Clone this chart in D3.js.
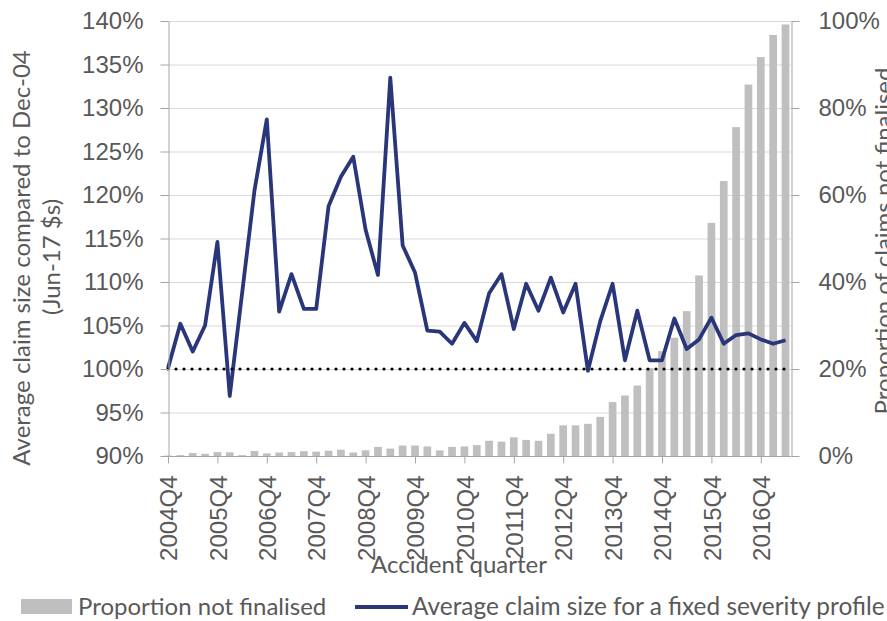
<!DOCTYPE html>
<meta charset="utf-8">
<style>
    body { margin: 0; background: #fff; }
    svg { display: block; font-family: Lato, "Open Sans", sans-serif; }
    .tick text, .label { fill: #595959; }
    .grid line { stroke: #d9d9d9; stroke-width: 1px; }
    .axis path, .axis line { stroke: #a6a6a6; }
    #claimLine { fill: none; stroke: #29367a; stroke-width: 3.8px; stroke-linejoin: round; }
    #baseLine { fill: none; stroke: #000; stroke-width: 3.2px; stroke-dasharray: 0 8; stroke-linecap: round; }
    .bar { fill: #bfbfbf; }
</style>
<body>
<script src="https://cdnjs.cloudflare.com/ajax/libs/d3/7.8.5/d3.min.js"></script>
<script>

    // accident quarters, 2004Q4 to 2017Q2
    var quarters = [
        "2004Q4",
        "2005Q1", "2005Q2", "2005Q3", "2005Q4",
        "2006Q1", "2006Q2", "2006Q3", "2006Q4",
        "2007Q1", "2007Q2", "2007Q3", "2007Q4",
        "2008Q1", "2008Q2", "2008Q3", "2008Q4",
        "2009Q1", "2009Q2", "2009Q3", "2009Q4",
        "2010Q1", "2010Q2", "2010Q3", "2010Q4",
        "2011Q1", "2011Q2", "2011Q3", "2011Q4",
        "2012Q1", "2012Q2", "2012Q3", "2012Q4",
        "2013Q1", "2013Q2", "2013Q3", "2013Q4",
        "2014Q1", "2014Q2", "2014Q3", "2014Q4",
        "2015Q1", "2015Q2", "2015Q3", "2015Q4",
        "2016Q1", "2016Q2", "2016Q3", "2016Q4",
        "2017Q1", "2017Q2"
    ];

    // quarters that get a tick label
    var tickQuarters = ["2004Q4", "2005Q4", "2006Q4", "2007Q4", "2008Q4", "2009Q4", "2010Q4",
        "2011Q4", "2012Q4", "2013Q4", "2014Q4", "2015Q4", "2016Q4"];

    // average claim size compared to Dec-04 (%), left axis
    var avgClaimSize = [100.1, 105.2, 102.0, 105.0, 114.6, 96.9, 108.7, 120.5, 128.7, 106.6,
        110.9, 106.9, 106.9, 118.7, 122.1, 124.4, 116.0, 110.8, 133.5, 114.2,
        111.1, 104.4, 104.3, 102.9, 105.3, 103.2, 108.7, 110.9, 104.6, 109.8,
        106.7, 110.5, 106.5, 109.8, 99.8, 105.5, 109.8, 101.0, 106.7, 101.0,
        101.0, 105.8, 102.3, 103.4, 105.9, 102.9, 103.9, 104.1, 103.4, 102.9, 103.3];

    // proportion of claims not finalised (%), right axis
    var propNotFinalised = [0.1, 0.2, 0.7, 0.5, 0.9, 0.85, 0.2, 1.15, 0.6, 0.8,
        0.9, 1.1, 1.0, 1.2, 1.45, 0.8, 1.3, 2.1, 1.7, 2.4,
        2.4, 2.2, 1.3, 2.1, 2.2, 2.5, 3.5, 3.3, 4.3, 3.7,
        3.5, 5.1, 7.05, 7.05, 7.4, 9.0, 12.4, 13.9, 16.2, 20.2,
        24.1, 27.2, 33.3, 41.5, 53.6, 63.2, 75.6, 85.4, 91.7, 96.8, 99.2];

    // Dec-04 reference level
    var baseLevel = 100;

    var leftTicks = [90, 95, 100, 105, 110, 115, 120, 125, 130, 135, 140];
    var rightTicks = [0, 20, 40, 60, 80, 100];

    // set the dimensions of the graph
    var W = 887, H = 621;
    var plotLeft = 168, plotRight = 791, plotTop = 21, plotBottom = 456;
    var step = 12.35;

    var svg = d3.select("body").append("svg").attr("width", W).attr("height", H);

    // set the ranges
    var x = d3.scaleLinear().domain([0, quarters.length - 1]).range([plotLeft, plotLeft + step * (quarters.length - 1)]);
    var yLeft = d3.scaleLinear().domain([90, 140]).range([plotBottom, plotTop]);
    var yRight = d3.scaleLinear().domain([0, 100]).range([plotBottom, plotTop]);

    // gridlines
    svg.append("g").attr("class", "grid").selectAll("line").data(leftTicks.slice(1)).enter().append("line")
        .attr("x1", plotLeft).attr("x2", plotRight)
        .attr("y1", function(d) { return yLeft(d) + 0.5; })
        .attr("y2", function(d) { return yLeft(d) + 0.5; });

    // bars
    var barW = 7.7;
    svg.append("g").selectAll("rect").data(propNotFinalised).enter().append("rect")
        .attr("class", "bar")
        .attr("x", function(d, i) { return x(i) - barW / 2; })
        .attr("width", barW)
        .attr("y", function(d) { return yRight(d); })
        .attr("height", function(d) { return plotBottom - yRight(d); });

    // average claim size line
    var valueline = d3.line().x(function(d, i) { return x(i); }).y(function(d) { return yLeft(d); });
    svg.append("path").datum(avgClaimSize).attr("id", "claimLine").attr("d", valueline);

    // dotted 100% line
    var baseData = quarters.map(function() { return baseLevel; });
    svg.append("path").datum(baseData).attr("id", "baseLine").attr("d", valueline);

    // left axis
    var gl = svg.append("g").attr("class", "axis").attr("transform", "translate(" + (plotLeft + 0.5) + ",0)")
        .call(d3.axisLeft(yLeft).tickValues(leftTicks).tickSize(8).tickSizeOuter(0).tickPadding(17)
            .tickFormat(function(d) { return d + "%"; }));
    gl.selectAll("text").style("font-size", "24px");

    // right axis
    var gr = svg.append("g").attr("class", "axis").attr("transform", "translate(" + (plotRight + 0.5) + ",0)")
        .call(d3.axisRight(yRight).tickValues(rightTicks).tickSize(8).tickSizeOuter(0).tickPadding(19)
            .tickFormat(function(d) { return d + "%"; }));
    gr.selectAll("text").style("font-size", "24px");

    // bottom axis
    var gb = svg.append("g").attr("class", "axis").attr("transform", "translate(0," + (plotBottom + 0.5) + ")");
    gb.append("line").attr("x1", plotLeft).attr("x2", plotRight).attr("stroke", "#a6a6a6");
    gb.call(d3.axisBottom(x).tickValues(tickQuarters.map(function(q) { return quarters.indexOf(q); }))
        .tickSize(7).tickFormat(function(i) { return quarters[i]; }));
    gb.select(".domain").remove();
    gb.selectAll("text")
        .attr("transform", "rotate(-90)")
        .attr("x", -19).attr("y", 0).attr("dy", "0.36em")
        .style("text-anchor", "end").style("font-size", "24px");

    // axis titles
    svg.append("text").attr("class", "label").attr("text-anchor", "middle").style("font-size", "24px")
        .attr("transform", "translate(30,258) rotate(-90)").text("Average claim size compared to Dec-04");
    svg.append("text").attr("class", "label").attr("text-anchor", "middle").style("font-size", "24px")
        .attr("transform", "translate(60,257) rotate(-90)").text("(Jun-17 $s)");
    svg.append("text").attr("class", "label").attr("text-anchor", "middle").style("font-size", "24px")
        .attr("transform", "translate(892,241) rotate(-90)").text("Proportion of claims not finalised");
    svg.append("text").attr("class", "label").attr("text-anchor", "middle").style("font-size", "24px")
        .attr("x", 459).attr("y", 573).text("Accident quarter");

    // legend
    var legend = svg.append("g");
    legend.append("rect").attr("class", "bar").attr("x", 21).attr("y", 599).attr("width", 51).attr("height", 15);
    legend.append("text").attr("class", "label").style("font-size", "24px").attr("x", 78).attr("y", 615).text("Proportion not finalised");
    legend.append("line").attr("x1", 355).attr("x2", 408).attr("y1", 607).attr("y2", 607)
        .attr("stroke", "#29367a").attr("stroke-width", 3.8);
    legend.append("text").attr("class", "label").style("font-size", "24.4px").attr("x", 412).attr("y", 615).text("Average claim size for a fixed severity profile");

</script>
</body>
